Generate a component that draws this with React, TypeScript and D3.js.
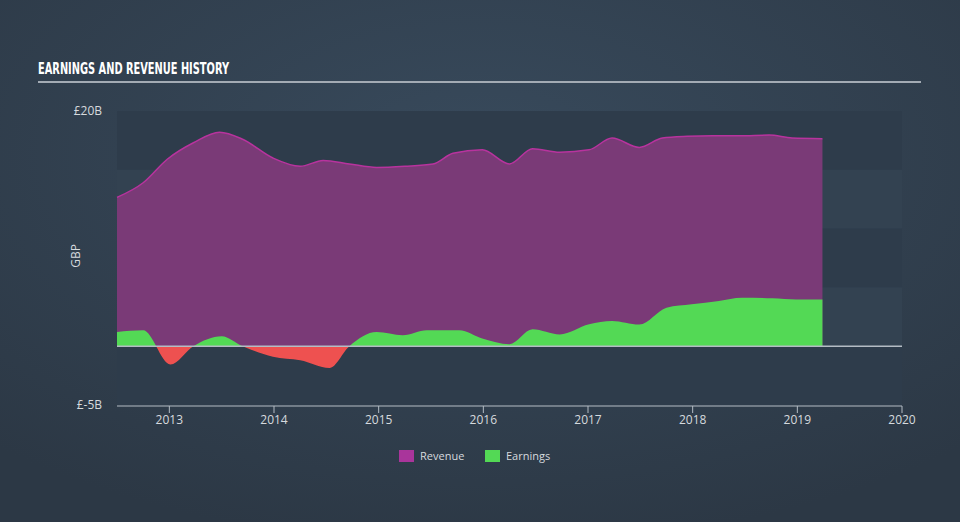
import React from "react";
import * as d3 from "d3";

const revenueYears = [2012.5, 2012.75, 2012.98, 2013.23, 2013.48, 2013.7, 2013.99, 2014.25, 2014.47, 2014.72, 2014.98, 2015.25, 2015.52, 2015.71, 2015.99, 2016.25, 2016.47, 2016.73, 2017.01, 2017.23, 2017.49, 2017.71, 2017.95, 2018.19, 2018.45, 2018.73, 2018.95, 2019.24];
const revenueValues = [12.65, 13.9, 15.9, 17.3, 18.2, 17.6, 16.0, 15.3, 15.8, 15.5, 15.2, 15.3, 15.5, 16.4, 16.7, 15.5, 16.8, 16.5, 16.7, 17.7, 16.9, 17.7, 17.85, 17.9, 17.9, 17.95, 17.7, 17.65];

const earningsYears = [2012.5, 2012.75, 2013.01, 2013.23, 2013.5, 2013.7, 2013.99, 2014.25, 2014.53, 2014.72, 2014.98, 2015.23, 2015.46, 2015.77, 2015.99, 2016.25, 2016.47, 2016.73, 2017.01, 2017.23, 2017.49, 2017.75, 2017.99, 2018.25, 2018.47, 2018.76, 2018.99, 2019.24];
const earningsValues = [1.2, 1.35, -1.55, 0.0, 0.85, 0.0, -0.9, -1.2, -1.85, 0.0, 1.2, 0.93, 1.35, 1.35, 0.65, 0.17, 1.44, 1.0, 1.86, 2.15, 1.84, 3.28, 3.56, 3.84, 4.12, 4.07, 3.98, 3.98];

const xTickYears = [2013, 2014, 2015, 2016, 2017, 2018, 2019, 2020];
const yTickValues = [20, -5];
const yTickLabels = ["£20B", "£-5B"];
const bandEdges = [20, 15, 10, 5, 0, -5];
const legendItems = ["Revenue", "Earnings"];

const W = 960;
const H = 522;
const left = 117;
const right = 902;
const top = 111;
const bottom = 405;

export default function App() {
  const x = d3.scaleLinear().domain([2012.5, 2020]).range([left, right]);
  const y = d3.scaleLinear().domain([-5, 20]).range([bottom, top]);

  const rev = revenueYears.map((t, i) => ({ t, v: revenueValues[i] }));
  const earn = earningsYears.map((t, i) => ({ t, v: earningsValues[i] }));

  const curve = d3.curveMonotoneX;
  const revArea = d3.area<{ t: number; v: number }>().x(d => x(d.t)).y0(y(0)).y1(d => y(d.v)).curve(curve);
  const revLine = d3.line<{ t: number; v: number }>().x(d => x(d.t)).y(d => y(d.v)).curve(curve);
  const earnArea = d3.area<{ t: number; v: number }>().x(d => x(d.t)).y0(y(0)).y1(d => y(d.v)).curve(curve);

  const bands = [] as { y0: number; y1: number; dark: boolean }[];
  for (let i = 0; i < bandEdges.length - 1; i++) {
    bands.push({ y0: y(bandEdges[i]), y1: y(bandEdges[i + 1]), dark: i % 2 === 0 });
  }

  const font = "'Open Sans', 'DejaVu Sans', sans-serif";

  return (
    <svg width={W} height={H} style={{ position: "absolute", left: 0, top: 0 }}>
      <defs>
        <radialGradient id="bg" cx="50%" cy="30%" r="75%">
          <stop offset="0%" stopColor="#384a5c" />
          <stop offset="100%" stopColor="#2c3845" />
        </radialGradient>
        <clipPath id="above">
          <rect x={left} y={0} width={right - left} height={y(0)} />
        </clipPath>
        <clipPath id="below">
          <rect x={left} y={y(0)} width={right - left} height={H - y(0)} />
        </clipPath>
      </defs>
      <rect x={0} y={0} width={W} height={H} fill="url(#bg)" />

      {bands.map((b, i) => (
        <rect key={i} x={left} y={b.y0} width={right - left} height={b.y1 - b.y0}
          fill={b.dark ? "#2e3c4b" : "#334251"} />
      ))}

      <text x={38} y={74} fill="#ffffff" fontFamily="'Liberation Sans Narrow', 'DejaVu Sans Condensed', sans-serif"
        fontWeight="bold" fontSize={15} textLength={191} lengthAdjust="spacingAndGlyphs">
        EARNINGS AND REVENUE HISTORY
      </text>
      <line x1={38} x2={921} y1={82} y2={82} stroke="#a3abb4" strokeWidth={2} />

      <path d={revArea(rev) || ""} fill="#7a3a77" />
      <path d={revLine(rev) || ""} fill="none" stroke="#b8339e" strokeWidth={1.5} />

      <path d={earnArea(earn) || ""} fill="#53d955" clipPath="url(#above)" />
      <path d={earnArea(earn) || ""} fill="#ee5150" clipPath="url(#below)" />

      <line x1={left} x2={right} y1={y(0)} y2={y(0)} stroke="#b4bcc4" strokeWidth={1.5} />

      {yTickValues.map((v, i) => (
        <text key={v} x={102} y={y(v) + 4} textAnchor="end" fill="#d6dade" fontFamily={font} fontSize={12}>
          {yTickLabels[i]}
        </text>
      ))}
      <text transform={`translate(80,256) rotate(-90)`} textAnchor="middle" fill="#d6dade" fontFamily={font} fontSize={12}>
        GBP
      </text>

      <line x1={left} x2={right} y1={bottom + 1} y2={bottom + 1} stroke="#b4bcc4" strokeWidth={1.2} />
      {xTickYears.map(t => (
        <g key={t}>
          <line x1={x(t)} x2={x(t)} y1={bottom + 1} y2={bottom + 8} stroke="#b4bcc4" strokeWidth={1} />
          <text x={x(t)} y={424} textAnchor="middle" fill="#d6dade" fontFamily={font} fontSize={12}>
            {t}
          </text>
        </g>
      ))}

      {legendItems.map((name, i) => {
        const lx = i === 0 ? 399 : 485;
        const color = i === 0 ? "#a9359b" : "#53d955";
        return (
          <g key={name}>
            <rect x={lx} y={450} width={15} height={12} fill={color} />
            <text x={lx + 21} y={460} fill="#d6dade" fontFamily={font} fontSize={11}>{name}</text>
          </g>
        );
      })}
    </svg>
  );
}
